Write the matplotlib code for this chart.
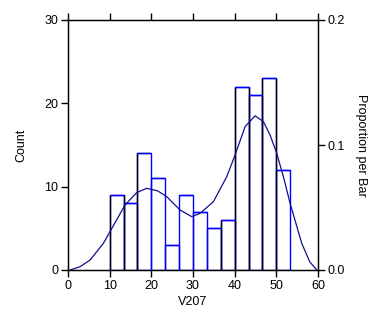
import numpy as np
import matplotlib.pyplot as plt

plt.rcParams['font.family'] = ['Liberation Sans', 'DejaVu Sans']

# histogram of V207, 13 bins of width 10/3 starting at 10
bin_start = 10.0
bin_width = 10.0 / 3
counts = [9, 8, 14, 11, 3, 9, 7, 5, 6, 22, 21, 23, 12]

# smooth density curve (in count units)
curve_x = [0.5, 2.9, 5.3, 8.5, 10.3, 13.7, 16.5, 18.9, 21.5, 23.7, 26.9, 29.7,
           31.7, 34.9, 38.1, 40.1, 42.5, 44.9, 46.9, 48.5, 50.1, 51.8, 53.3,
           56.1, 58.0, 59.7]
curve_y = [0.0, 0.4, 1.2, 3.2, 4.8, 7.8, 9.3, 9.8, 9.5, 8.8, 7.2, 6.4,
           6.8, 8.2, 11.2, 13.8, 17.2, 18.5, 17.8, 16.2, 14.0, 11.0, 8.0,
           3.2, 1.0, 0.0]

n = len(counts)
edges = bin_start + bin_width * np.arange(n + 1)
total = sum(counts)

fig = plt.figure(figsize=(3.84, 3.36), dpi=100)
ax = fig.add_axes([68 / 384, 66 / 336, 250 / 384, 250 / 336])

# some of the bar sides come out black in the original
edge_black = [True, True, True, False, False, False, False, False,
              True, True, True, True, True, False]
padded = [0] + counts + [0]
for i, e in enumerate(edges):
    if edge_black[i]:
        h = max(padded[i], padded[i + 1])
        ax.vlines(e, 0, h, color='black', linewidth=1.0, zorder=1)

ax.bar(edges[:-1], counts, width=bin_width, align='edge', fill=False,
       edgecolor='#0000ff', linewidth=1.0, zorder=0.5)
# redraw bar tops in blue over the black sides
ax.hlines(counts, edges[:-1], edges[1:], color='#0000ff', linewidth=1.0,
          zorder=1.5)

ax.plot(curve_x, curve_y, color='#101090', linewidth=0.9, zorder=2)

ax.set_xlim(0, 60)
ax.set_ylim(0, 30)
ax.set_xticks(range(0, 61, 10))
ax.set_yticks([0, 10, 20, 30])
ax.tick_params(direction='out', length=5, width=1, labelsize=9, pad=2,
               top=True, labeltop=False)
for s in ax.spines.values():
    s.set_linewidth(1)
ax.set_xlabel('V207', fontsize=9, labelpad=3)
ax.set_ylabel('Count', fontsize=9, labelpad=12)

ax2 = ax.twinx()
ax2.set_ylim(0, 30 / total)
ax2.set_yticks([0.0, 0.1, 0.2])
ax2.set_yticklabels(['0.0', '0.1', '0.2'])
ax2.tick_params(direction='out', length=5, width=1, labelsize=9, pad=2)
ax2.set_ylabel('Proportion per Bar', fontsize=9, rotation=-90, labelpad=16)

fig.savefig('out.png', dpi=100)
